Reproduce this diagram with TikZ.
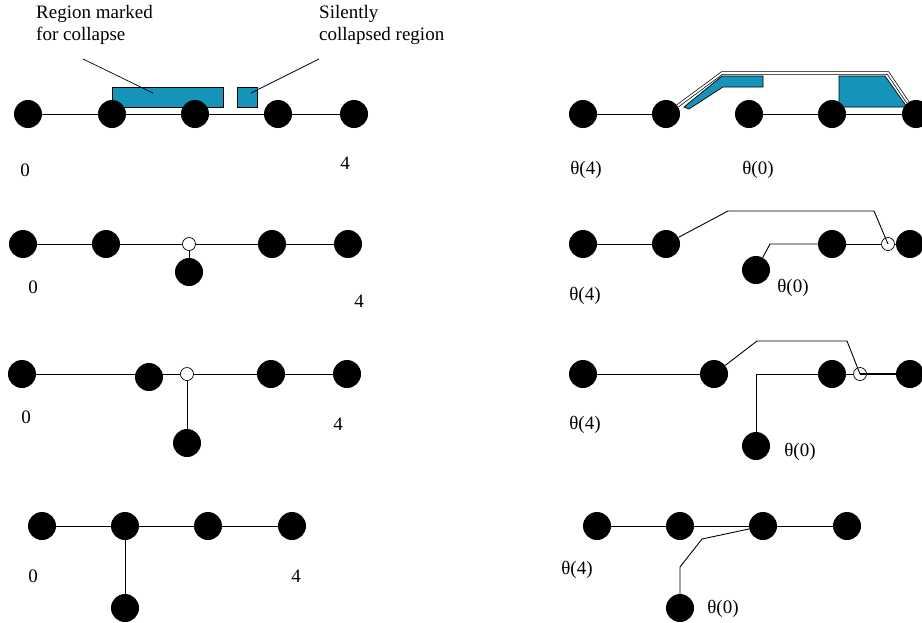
\documentclass[tikz,border=0pt]{standalone}
\usepackage{fontspec}
\setmainfont{Liberation Serif}
\definecolor{collapse}{RGB}{22,147,184}
\begin{document}
\begin{tikzpicture}[x=1pt,y=-1pt,
  vtx/.style={circle,fill=black,minimum size=28pt,inner sep=0pt},
  hub/.style={circle,draw=black,fill=white,minimum size=13pt,inner sep=0pt,line width=0.7pt},
  lbl/.style={font=\fontsize{19}{22}\selectfont,inner sep=0pt},
  edge/.style={line width=0.9pt},
  region/.style={fill=collapse,draw=black,line width=0.7pt},
  hull/.style={draw=black,line width=0.7pt,double=white,double distance=1.8pt}]
\useasboundingbox (0,0) rectangle (922,622);

% ---------- left column, row 1: regions marked on the chain ----------
\node[lbl,anchor=base west] (rm1) at (36,18) {Region marked};
\node[lbl,anchor=base west] (rm2) at (36,40) {for collapse};
\node[lbl,anchor=base west] (sc1) at (319,18) {Silently};
\node[lbl,anchor=base west] (sc2) at (319,40) {collapsed region};
\draw[region] (112,87) rectangle (223,107);
\draw[region] (237,87) rectangle (257,107);
\coordinate (pm) at (153,93);
\coordinate (ps) at (251,93);
\coordinate (tm) at (83,59);
\coordinate (ts) at (319,59);
\draw[line width=0.7pt] (tm) -- (pm);
\draw[line width=0.7pt] (ts) -- (ps);
\node[vtx] (a1) at (28,114) {};
\node[vtx] (a2) at (112,114) {};
\node[vtx] (a3) at (195,114) {};
\node[vtx] (a4) at (278,114) {};
\node[vtx] (a5) at (354,114) {};
\draw[edge] (a1) -- (a2) -- (a3) -- (a4) -- (a5);
\node[lbl] (a0l) at (25,170) {0};
\node[lbl] (a4l) at (345,163) {4};

% ---------- left column, row 2 ----------
\node[vtx] (b1) at (23,244) {};
\node[vtx] (b2) at (106,244) {};
\node[hub] (bh) at (189,244) {};
\node[vtx] (b4) at (272,244) {};
\node[vtx] (b5) at (348,244) {};
\node[vtx] (bp) at (189,272) {};
\draw[edge] (b1) -- (b2) -- (bh) -- (b4) -- (b5);
\draw[edge] (bh) -- (bp);
\node[lbl] (b0l) at (33,287) {0};
\node[lbl] (b4l) at (359,301) {4};

% ---------- left column, row 3 ----------
\node[vtx] (c1) at (22,374) {};
\node[vtx] (c2) at (149,377) {};
\node[hub] (ch) at (187,374) {};
\node[vtx] (c4) at (271,374) {};
\node[vtx] (c5) at (347,374) {};
\node[vtx] (cp) at (187,443) {};
\draw[edge] (c1) -- (ch) -- (c4) -- (c5);
\draw[edge] (ch) -- (cp);
\node[lbl] (c0l) at (26,417) {0};
\node[lbl] (c4l) at (338,424) {4};

% ---------- left column, row 4 ----------
\node[vtx] (d1) at (42,526) {};
\node[vtx] (d2) at (125,526) {};
\node[vtx] (d3) at (208,526) {};
\node[vtx] (d4) at (292,526) {};
\node[vtx] (dp) at (125,608) {};
\draw[edge] (d1) -- (d2) -- (d3) -- (d4);
\draw[edge] (d2) -- (dp);
\node[lbl] (d0l) at (33,576) {0};
\node[lbl] (d4l) at (296,576) {4};

% ---------- right column, row 1 ----------
\draw[region] (684,107) -- (722,76) -- (763,76) -- (763,87) -- (723,87) -- (689,109) -- cycle;
\draw[region] (839,76) -- (885,76) -- (907,107) -- (839,107) -- cycle;
\node[vtx] (e1) at (583,114) {};
\node[vtx] (e2) at (666,114) {};
\node[vtx] (e3) at (749,114) {};
\node[vtx] (e4) at (832,114) {};
\node[vtx] (e5) at (916,114) {};
\draw[edge] (e1) -- (e2);
\draw[edge] (e3) -- (e4) -- (e5);
\coordinate (eh1) at (722,73);
\coordinate (eh2) at (888,73);
\draw[hull] (e2.35) -- (eh1) -- (eh2) -- (e5.125);
\node[lbl] (e4l) at (586,170) {θ(4)};
\node[lbl] (e0l) at (758,170) {θ(0)};

% ---------- right column, row 2 ----------
\node[vtx] (f1) at (583,244) {};
\node[vtx] (f2) at (666,244) {};
\node[vtx] (f4) at (832,244) {};
\node[vtx] (f5) at (910,244) {};
\node[hub] (fh) at (888,244) {};
\node[vtx] (fp) at (756,270) {};
\coordinate (fk1) at (728,211);
\coordinate (fk2) at (874,211);
\coordinate (fk3) at (770,244);
\draw[edge] (f1) -- (f2);
\draw[edge] (f2) -- (fk1) -- (fk2) -- (fh.center);
\draw[edge] (fp) -- (fk3) -- (f4);
\draw[edge] (f4) -- (fh) -- (f5);
\node[lbl] (f4l) at (585,296) {θ(4)};
\node[lbl] (f0l) at (793,288) {θ(0)};

% ---------- right column, row 3 ----------
\node[vtx] (g1) at (583,374) {};
\node[vtx] (g2) at (714,374) {};
\node[vtx] (g4) at (832,374) {};
\node[vtx] (g5) at (910,374) {};
\node[hub] (gh) at (860,374) {};
\node[vtx] (gp) at (756,446) {};
\coordinate (gk1) at (757,341);
\coordinate (gk2) at (847,341);
\coordinate (gk3) at (756,374);
\draw[edge] (g1) -- (g2);
\draw[edge] (g2) -- (gk1) -- (gk2) -- (gh.center);
\draw[edge] (gp) -- (gk3) -- (g4);
\draw[edge] (g4) -- (gh);
\draw[line width=1.4pt] (gh.center) -- (g5);
\node[lbl] (g4l) at (585,425) {θ(4)};
\node[lbl] (g0l) at (800,452) {θ(0)};

% ---------- right column, row 4 ----------
\node[vtx] (h1) at (597,526) {};
\node[vtx] (h2) at (680,526) {};
\node[vtx] (h3) at (763,526) {};
\node[vtx] (h4) at (847,526) {};
\node[vtx] (hp) at (680,608) {};
\coordinate (hk1) at (680,567);
\coordinate (hk2) at (702,539);
\draw[edge] (h1) -- (h2) -- (h3) -- (h4);
\draw[edge] (hp) -- (hk1) -- (hk2) -- (h3);
\node[lbl] (h4l) at (577,570) {θ(4)};
\node[lbl] (h0l) at (723,609) {θ(0)};
\end{tikzpicture}
\end{document}
